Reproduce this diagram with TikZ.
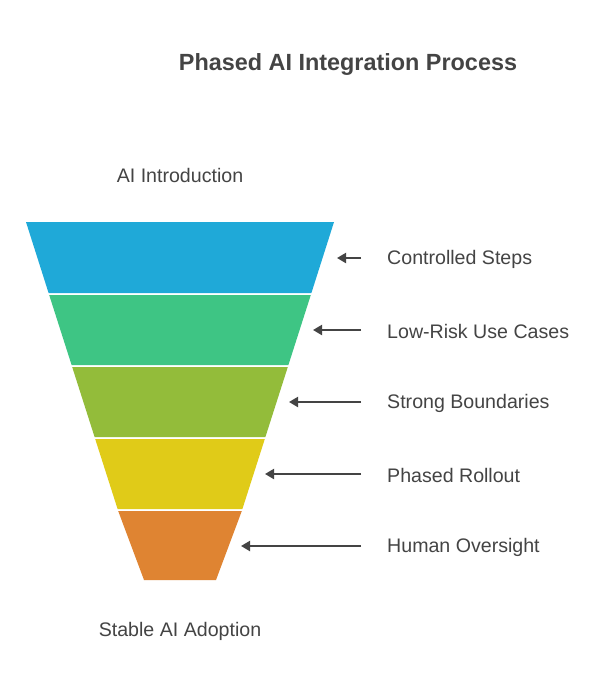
\documentclass[tikz,border=0pt]{standalone}
\usepackage{fontspec}
\setmainfont{Liberation Sans}
\usetikzlibrary{arrows.meta}
\definecolor{txt}{HTML}{444444}
\definecolor{c1}{HTML}{1FA9D8}
\definecolor{c2}{HTML}{3EC584}
\definecolor{c3}{HTML}{93BC3A}
\definecolor{c4}{HTML}{E0CB18}
\definecolor{c5}{HTML}{DF8432}
\tikzset{
  lbl/.style={font=\fontsize{19.6}{22}\selectfont, text=txt, inner sep=0pt},
  side/.style={lbl, anchor=west},
  ptr/.style={draw=txt, line width=2pt, -{Triangle[length=9pt,width=10pt]}},
}
\begin{document}
\begin{tikzpicture}[x=1pt,y=-1pt]
\useasboundingbox[fill=white] (0,0) rectangle (592,690);
\node[font=\fontsize{23.4}{26}\selectfont\bfseries, text=txt] (title) at (348,64.5) {Phased AI Integration Process};
\node[lbl] (top) at (180,175.5) {AI Introduction};
\node[lbl] (bot) at (180,631.5) {Stable AI Adoption};
% funnel layers
\fill[c1] (26,222) -- (334,222) -- (311.4,293) -- (48.6,293) -- cycle;
\fill[c2] (49.2,295) -- (310.8,295) -- (288.4,365) -- (71.6,365) -- cycle;
\fill[c3] (72.2,367) -- (287.8,367) -- (265.4,437) -- (94.6,437) -- cycle;
\fill[c4] (95.2,439) -- (264.8,439) -- (242.4,509) -- (117.6,509) -- cycle;
\fill[c5] (118.2,511) -- (241.8,511) -- (216,580) -- (144,580) -- cycle;
% arrow tips
\coordinate (a1) at (337,258); \coordinate (a2) at (313,330); \coordinate (a3) at (289,402);
\coordinate (a4) at (265,474); \coordinate (a5) at (241,546);
\node[side] (s1) at (387,259.5) {Controlled Steps};
\node[side] (s2) at (387,331.5) {Low-Risk Use Cases};
\node[side] (s3) at (387,403.5) {Strong Boundaries};
\node[side] (s4) at (387,475.5) {Phased Rollout};
\node[side] (s5) at (387,547.5) {Human Oversight};
\foreach \i/\y in {1/258,2/330,3/402,4/474,5/546}{
  \draw[ptr] (361,\y) -- (a\i);
}
\end{tikzpicture}
\end{document}
